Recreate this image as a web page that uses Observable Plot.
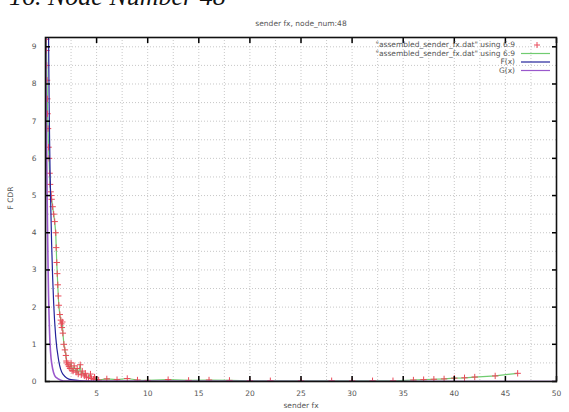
<!DOCTYPE html>
<html><head><meta charset="utf-8">
<script src="https://cdn.jsdelivr.net/npm/d3@7"></script>
<script src="https://cdn.jsdelivr.net/npm/@observablehq/plot@0.6"></script>
<style>
body{margin:0;background:#fff;width:569px;overflow:hidden}
#head{position:relative;height:14px;overflow:hidden}
#head span{position:absolute;left:9px;top:-16px;font:italic 26px "Liberation Serif",serif;line-height:1;color:#111;white-space:nowrap}
svg{display:block}
</style></head><body>
<div id="head"><span>16. Node Number 48</span></div>
<div id="chart"></div>
<script>
const chartTitle = "sender fx, node_num:48";
const xLabel = "sender fx";
const yLabel = "F CDR";
const legendLabels = ['"assembled_sender_fx.dat" using 6:9', '"assembled_sender_fx.dat" using 6:9', 'F(x)', 'G(x)'];
const xTicks = [5,10,15,20,25,30,35,40,45,50];
const yTicks = [0,1,2,3,4,5,6,7,8,9];

// measured data (column 6 vs column 9)
const dataX = [0.08,0.1,0.12,0.15,0.18,0.2,0.25,0.3,0.35,0.4,0.45,0.5,0.55,0.6,0.7,0.8,0.9,1.0,1.05,1.1,1.15,1.2,1.25,1.3,1.4,1.5,1.55,1.6,1.65,1.7,1.8,1.9,2.0,2.05,2.1,2.2,2.3,2.4,2.5,2.6,2.7,2.8,3.0,3.1,3.2,3.4,3.5,3.6,3.8,3.9,4.0,4.2,4.4,4.5,4.7,4.8,5.0,5.2,6,7,8,9,10,12,14,16,18,20,22,25,28,30,32,34,36,37,38,39,40,41,42,44,46.2];
const dataY = [9.2,8.9,8.5,8.1,7.6,7.2,6.8,6.3,6.0,5.6,5.3,5.1,5.0,4.9,4.7,4.5,4.3,4.0,3.6,3.2,2.9,2.6,2.3,2.05,1.8,1.65,1.55,1.45,1.6,1.3,1.0,0.85,0.7,0.55,0.5,0.45,0.4,0.35,0.5,0.3,0.28,0.42,0.25,0.35,0.2,0.45,0.18,0.28,0.15,0.22,0.12,0.1,0.2,0.08,0.06,0.12,0.05,0.04,0.07,0.05,0.08,0.04,0.03,0.05,0.03,0.04,0.03,0.02,0.02,0.02,0.02,0.02,0.02,0.02,0.04,0.05,0.06,0.07,0.09,0.1,0.12,0.15,0.22];

// fitted F(x)
const fX = [0.3,0.33,0.36,0.4,0.45,0.5,0.55,0.6,0.7,0.8,1.0,1.3,1.7,2.5,5,50];
const fY = [9.3,8.3,7.4,6.5,5.6,4.9,4.3,3.7,2.8,2.1,1.2,0.55,0.2,0.05,0,0];
// fitted G(x)
const gX = [0.02,0.04,0.06,0.08,0.1,0.13,0.16,0.2,0.25,0.3,0.4,0.6,1,2,50];
const gY = [9.3,8.6,7.9,7.2,6.6,5.8,5.0,4.1,3.1,2.3,1.3,0.5,0.12,0.01,0];

const pts = dataX.map((x,i)=>({x, y:dataY[i]}));
const fPts = fX.map((x,i)=>({x, y:fY[i]}));
const gPts = gX.map((x,i)=>({x, y:gY[i]}));

const colRed = "#ea4a5a", colGreen = "#70cc70", colBlue = "#22229a", colPurple = "#9a58cc";
const font = "DejaVu Sans, sans-serif";

const plot = Plot.plot({
  width: 569, height: 398,
  marginLeft: 45, marginRight: 13, marginTop: 23, marginBottom: 31,
  style: {fontFamily: font, fontSize: "7.5px", color: "#555", background: "#fff"},
  x: {domain: [0, 50]},
  y: {domain: [0, 9.25]},
  marks: [
    Plot.gridX(d3.range(0, 50.01, 2.5), {stroke: "#999", strokeOpacity: 0.55, strokeDasharray: "1,2"}),
    Plot.gridY(d3.range(0, 9.26, 0.5), {stroke: "#999", strokeOpacity: 0.55, strokeDasharray: "1,2"}),
    Plot.line(pts, {x: "x", y: "y", stroke: colGreen, strokeWidth: 1.2, clip: true}),
    Plot.dot(pts, {x: "x", y: "y", symbol: "plus", r: 2.2, stroke: colRed, strokeWidth: 1, clip: true}),
    Plot.line(fPts, {x: "x", y: "y", stroke: colBlue, strokeWidth: 1.2, clip: true, curve: "monotone-x"}),
    Plot.line(gPts, {x: "x", y: "y", stroke: colPurple, strokeWidth: 1.6, clip: true, curve: "monotone-x"}),
    Plot.axisX(xTicks, {anchor: "bottom", tickSize: 0, tickPadding: 9, label: null, fill: "#555"}),
    Plot.axisY(yTicks, {anchor: "left", tickSize: 0, tickPadding: 9, label: null, fill: "#555"}),
    Plot.axisX(xTicks, {anchor: "bottom", tickSize: -5, text: null, label: null, stroke: "#000", strokeWidth: 1.5}),
    Plot.axisX(xTicks, {anchor: "top", tickSize: -5, text: null, label: null, stroke: "#000", strokeWidth: 1.5}),
    Plot.axisY(yTicks, {anchor: "left", tickSize: -5, text: null, label: null, stroke: "#000", strokeWidth: 1.5}),
    Plot.axisY(yTicks, {anchor: "right", tickSize: -5, text: null, label: null, stroke: "#000", strokeWidth: 1.5}),
    Plot.frame({stroke: "#111", strokeWidth: 1.6}),
    Plot.text([chartTitle], {frameAnchor: "top", dy: -17, fill: "#555", fontSize: 7.5}),
    Plot.text([xLabel], {frameAnchor: "bottom", dy: 26, fill: "#555", fontSize: 7.5}),
    Plot.text([yLabel], {frameAnchor: "left", dx: -35, rotate: -90, fill: "#555", fontSize: 7.5})
  ]
});
document.getElementById("chart").append(plot);

// legend box inside top-right (gnuplot key)
const svg = d3.select(plot);
const lg = svg.append("g").attr("font-family", font).attr("font-size", 7.5).attr("fill", "#555");
const legendColors = [colRed, colGreen, colBlue, colPurple];
legendLabels.forEach((t, i) => {
  const yy = 31 + i * 8.5;
  lg.append("text").attr("x", 515).attr("y", yy).attr("dy", "0.32em").attr("text-anchor", "end").text(t);
  if (i === 0) {
    lg.append("path").attr("d", `M${534},${yy}h6M${537},${yy-3}v6`).attr("stroke", colRed).attr("stroke-width", 1);
  } else {
    lg.append("line").attr("x1", 521).attr("x2", 550).attr("y1", yy).attr("y2", yy)
      .attr("stroke", legendColors[i]).attr("stroke-width", 1.2);
  }
});
</script>
</body></html>
